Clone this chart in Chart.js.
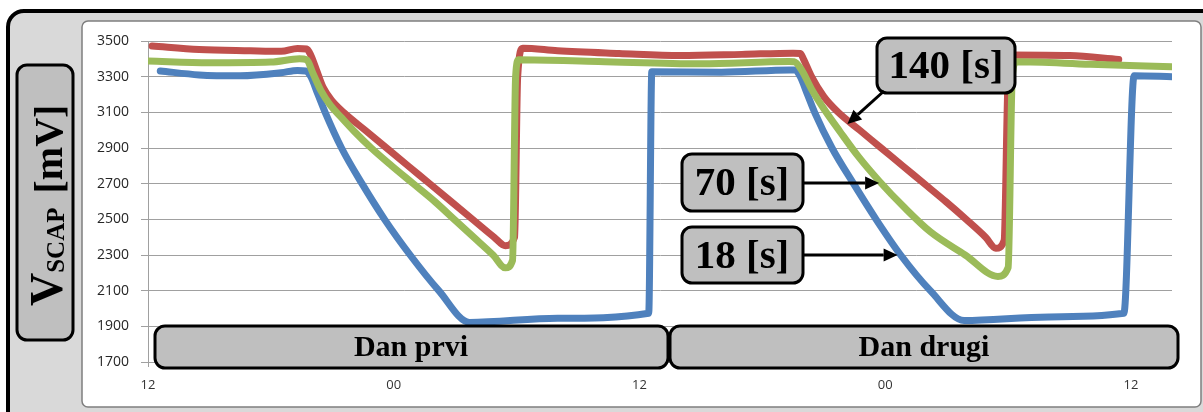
<!DOCTYPE html>
<html>
<head>
<meta charset="utf-8">
<script src="https://cdn.jsdelivr.net/npm/chart.js@4.4.1/dist/chart.umd.min.js"></script>
<style>
  html, body { margin: 0; padding: 0; background: #fff; }
  canvas { display: block; }
</style>
</head>
<body>
<canvas id="scapChart" width="1203" height="412"></canvas>
<script>
// hours counted from noon of the first day, supercap voltage in mV
const hours18 = [0.6, 2.5, 4.5, 6.5, 7.3, 7.7, 7.95, 8.3, 8.65, 9.45, 10.45, 11.55, 12.8, 14.2, 15.7, 20.0, 24.45, 24.6, 28.0, 31.35, 31.6, 31.85, 32.2, 32.55, 33.4, 34.45, 35.55, 36.75, 38.2, 39.85, 44.0, 47.65, 48.15, 50.0];
const mv18 = [3332, 3310, 3305, 3322, 3335, 3332, 3300, 3200, 3100, 2900, 2700, 2500, 2300, 2100, 1922, 1945, 1973, 3328, 3325, 3338, 3337, 3300, 3200, 3100, 2900, 2700, 2500, 2300, 2100, 1933, 1953, 1973, 3305, 3300];

const hours70 = [0, 3, 6, 7.4, 7.75, 8.05, 8.45, 8.9, 9.45, 10.1, 10.9, 11.9, 12.95, 14.0, 14.95, 15.9, 16.85, 17.45, 17.8, 17.95, 18.1, 22, 27, 31.3, 31.55, 31.9, 32.4, 33.0, 33.8, 34.7, 35.7, 36.9, 38.2, 39.9, 41.5, 42.0, 42.2, 42.4, 46, 50];
const mv70 = [3388, 3378, 3382, 3400, 3395, 3320, 3220, 3140, 3070, 2990, 2900, 2800, 2700, 2600, 2500, 2400, 2300, 2228, 2270, 3300, 3395, 3385, 3372, 3385, 3384, 3340, 3230, 3120, 2990, 2850, 2715, 2570, 2430, 2300, 2180, 2230, 3300, 3384, 3370, 3356];

const hours140 = [0.2, 2.5, 5.0, 6.5, 7.3, 7.75, 7.95, 8.25, 8.55, 8.95, 9.55, 10.6, 11.65, 12.7, 13.75, 14.8, 15.85, 16.9, 17.45, 17.9, 18.05, 18.3, 20, 23, 26, 29, 31.5, 31.85, 32.0, 32.4, 33.0, 33.7, 34.75, 35.8, 36.85, 37.9, 38.95, 39.95, 40.9, 41.4, 41.8, 42.0, 42.2, 45, 47.4];
const mv140 = [3472, 3452, 3445, 3442, 3458, 3455, 3420, 3330, 3240, 3170, 3100, 3000, 2900, 2800, 2700, 2600, 2500, 2400, 2352, 2400, 3300, 3460, 3445, 3430, 3418, 3425, 3432, 3430, 3400, 3300, 3188, 3100, 3000, 2900, 2800, 2700, 2600, 2500, 2400, 2338, 2380, 3300, 3421, 3418, 3397];

const yMin = 1700;
const yMax = 3500;
const yStep = 200;
const xTickHours = [0, 12, 24, 36, 48];
const xTickLabels = ["12", "00", "12", "00", "12"];
const dayLabels = ["Dan prvi", "Dan drugi"];
const periodLabels = ["18 [s]", "70 [s]", "140 [s]"];

const toPoints = (hs, vs) => hs.map((h, i) => ({ x: h, y: vs[i] }));

const SERIF = '"Liberation Serif", "Times New Roman", serif';
const BOX_FILL = "#bfbfbf";

function box(ctx, x, y, w, h, r) {
  ctx.beginPath();
  ctx.roundRect(x, y, w, h, r);
  ctx.fillStyle = BOX_FILL;
  ctx.fill();
  ctx.lineWidth = 3;
  ctx.strokeStyle = "#000";
  ctx.stroke();
}

function arrow(ctx, x1, y1, x2, y2) {
  const a = Math.atan2(y2 - y1, x2 - x1);
  const head = 14;
  const hw = 6.5;
  const bx = x2 - head * Math.cos(a);
  const by = y2 - head * Math.sin(a);
  ctx.strokeStyle = "#000";
  ctx.lineWidth = 3;
  ctx.beginPath();
  ctx.moveTo(x1, y1);
  ctx.lineTo(bx, by);
  ctx.stroke();
  ctx.fillStyle = "#000";
  ctx.beginPath();
  ctx.moveTo(x2, y2);
  ctx.lineTo(bx + hw * Math.sin(a), by - hw * Math.cos(a));
  ctx.lineTo(bx - hw * Math.sin(a), by + hw * Math.cos(a));
  ctx.closePath();
  ctx.fill();
}

// frame, white chart panel and the rotated axis title
const backdrop = {
  id: "backdrop",
  beforeDraw(chart) {
    const ctx = chart.ctx;
    ctx.save();
    ctx.fillStyle = "#fff";
    ctx.fillRect(0, 0, chart.width, chart.height);

    ctx.beginPath();
    ctx.roundRect(8, 11, chart.width + 20, chart.height + 20, 16);
    ctx.fillStyle = "#d9d9d9";
    ctx.fill();
    ctx.lineWidth = 4;
    ctx.strokeStyle = "#000";
    ctx.stroke();

    ctx.beginPath();
    ctx.roundRect(82, 21, 1119, 386, 6);
    ctx.fillStyle = "#fff";
    ctx.fill();
    ctx.lineWidth = 1.5;
    ctx.strokeStyle = "#7f7f7f";
    ctx.stroke();

    box(ctx, 17, 65, 56, 275, 10);

    ctx.translate(62, 306);
    ctx.rotate(-Math.PI / 2);
    ctx.fillStyle = "#000";
    ctx.textBaseline = "alphabetic";
    ctx.textAlign = "left";
    let x = 0;
    ctx.font = "bold 46px " + SERIF;
    ctx.fillText("V", x, 0);
    x += ctx.measureText("V").width;
    ctx.font = "bold 25px " + SERIF;
    ctx.fillText("SCAP", x, 2);
    x += ctx.measureText("SCAP").width + 14;
    ctx.font = "bold 40px " + SERIF;
    ctx.fillText("[mV]", x, 0);
    ctx.restore();
  },
  afterDraw(chart) {
    const ctx = chart.ctx;
    const xs = chart.scales.x;
    const ys = chart.scales.y;
    ctx.save();

    // day bands along the bottom
    box(ctx, 155, 326, 513, 42, 10);
    box(ctx, 670, 326, 508, 42, 10);
    ctx.fillStyle = "#000";
    ctx.textAlign = "center";
    ctx.textBaseline = "middle";
    ctx.font = "bold 30px " + SERIF;
    ctx.fillText(dayLabels[0], 411, 348);
    ctx.fillText(dayLabels[1], 924, 348);

    // period callouts, arrows end on the curves
    box(ctx, 877, 38, 138, 55, 10);
    box(ctx, 682, 154, 121, 57, 10);
    box(ctx, 682, 227, 121, 56, 10);
    ctx.fillStyle = "#000";
    ctx.font = "bold 41px " + SERIF;
    ctx.fillText(periodLabels[2], 946, 67);
    ctx.fillText(periodLabels[1], 742, 184);
    ctx.fillText(periodLabels[0], 742, 257);

    arrow(ctx, 884, 91, xs.getPixelForValue(34.2) - 1, ys.getPixelForValue(3046) + 2);
    arrow(ctx, 803, 183, xs.getPixelForValue(35.7), 183);
    arrow(ctx, 803, 255, xs.getPixelForValue(36.7) - 2, 255);
    ctx.restore();
  }
};

const lineStyle = {
  borderWidth: 7,
  pointRadius: 0,
  fill: false,
  cubicInterpolationMode: "monotone",
  borderJoinStyle: "round",
  borderCapStyle: "round"
};

new Chart(document.getElementById("scapChart"), {
  type: "line",
  data: {
    datasets: [
      { ...lineStyle, label: periodLabels[1], data: toPoints(hours70, mv70), borderColor: "#9bbb59", order: 0 },
      { ...lineStyle, label: periodLabels[2], data: toPoints(hours140, mv140), borderColor: "#c0504d", order: 1 },
      { ...lineStyle, label: periodLabels[0], data: toPoints(hours18, mv18), borderColor: "#4f81bd", order: 2 }
    ]
  },
  options: {
    responsive: false,
    animation: false,
    devicePixelRatio: 1,
    layout: { padding: { left: 80, top: 41, right: 31, bottom: 0 } },
    plugins: { legend: { display: false }, tooltip: { enabled: false } },
    scales: {
      x: {
        type: "linear",
        min: 0,
        max: 50,
        afterBuildTicks: (s) => { s.ticks = xTickHours.map((v) => ({ value: v })); },
        afterFit: (s) => { s.height = 50; },
        ticks: {
          callback: (v) => xTickLabels[xTickHours.indexOf(v)],
          font: { family: '"Open Sans", sans-serif', size: 13 },
          color: "#333",
          padding: 10,
          maxRotation: 0
        },
        grid: { drawOnChartArea: false, tickLength: 5, color: "#a0a0a0" },
        border: { color: "#a0a0a0" }
      },
      y: {
        min: yMin,
        max: yMax,
        afterFit: (s) => { s.width = 68; },
        ticks: {
          stepSize: yStep,
          callback: (v) => String(v),
          font: { family: '"Open Sans", sans-serif', size: 14 },
          color: "#262626",
          padding: 12
        },
        grid: { color: "#a0a0a0", tickLength: 7 },
        border: { color: "#a0a0a0" }
      }
    }
  },
  plugins: [backdrop]
});
</script>
</body>
</html>
